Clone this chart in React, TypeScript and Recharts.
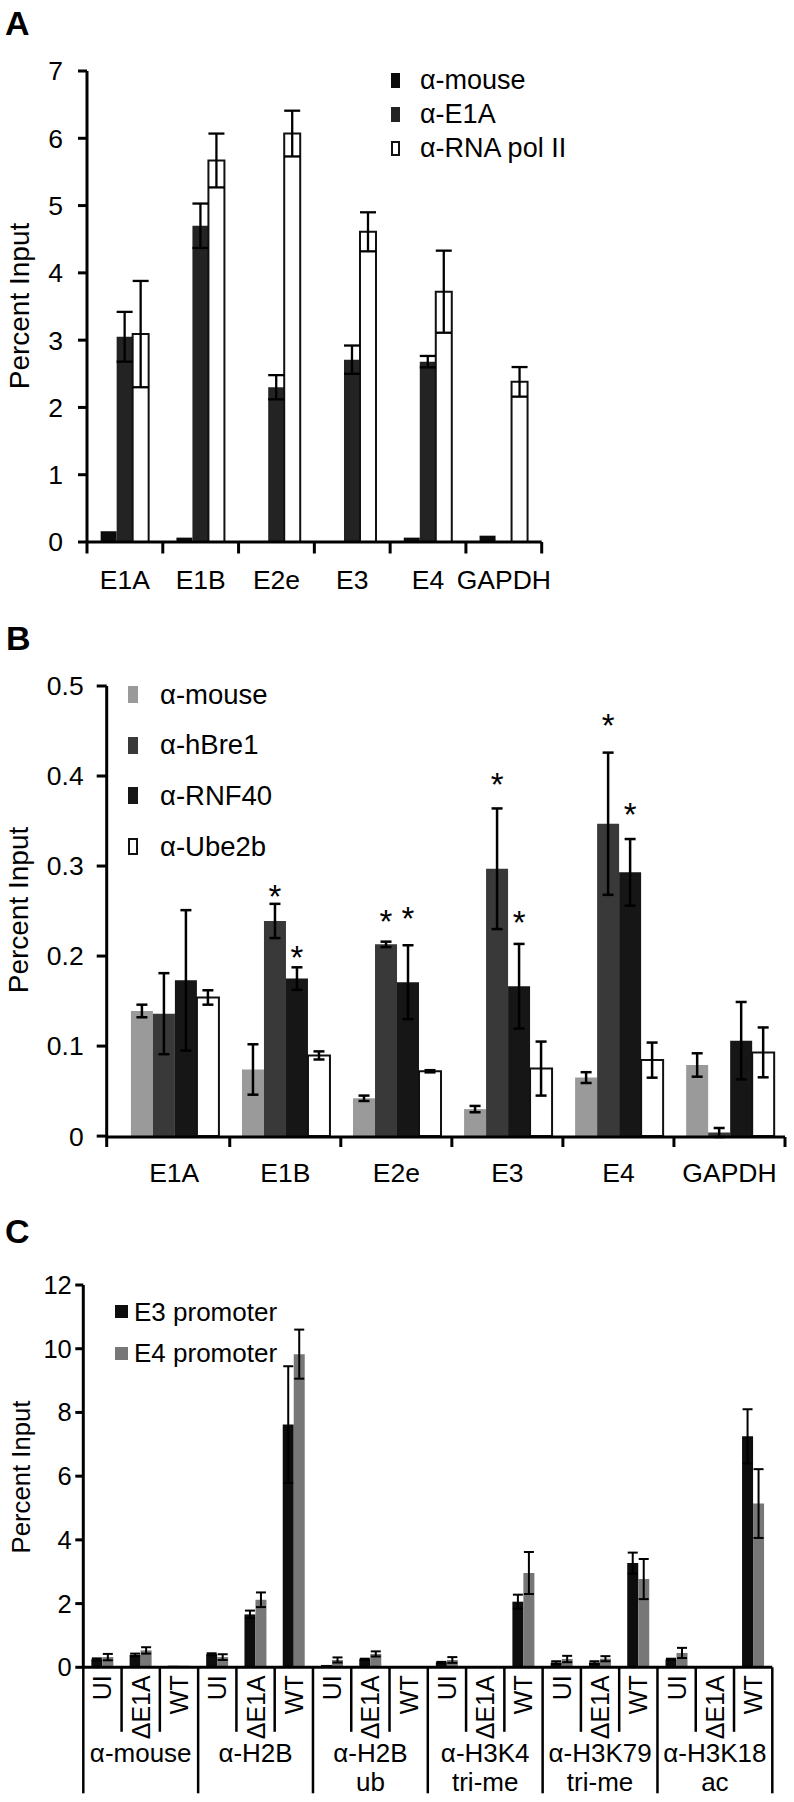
import React from 'react';
import { BarChart, Bar, XAxis, YAxis, ErrorBar, Legend, LabelList } from 'recharts';

const FONT = '"Liberation Sans", Arial, Helvetica, sans-serif';

// ---------- Panel A data ----------
const aCategories = ['E1A', 'E1B', 'E2e', 'E3', 'E4', 'GAPDH'];
const aMouse = [0.16, 0.065, 0, 0, 0.065, 0.094];
const aE1A = [3.05, 4.7, 2.3, 2.71, 2.68, 0];
const aE1AErr = [0.37, 0.33, 0.18, 0.21, 0.085, 0];
const aPol = [3.09, 5.67, 6.07, 4.61, 3.72, 2.38];
const aPolErr = [0.79, 0.4, 0.34, 0.29, 0.61, 0.22];
const aTicks = [0, 1, 2, 3, 4, 5, 6, 7];

// ---------- Panel B data ----------
const bCategories = ['E1A', 'E1B', 'E2e', 'E3', 'E4', 'GAPDH'];
const bMouse = [0.139, 0.074, 0.042, 0.03, 0.065, 0.079];
const bMouseErr = [0.007, 0.028, 0.003, 0.0035, 0.006, 0.013];
const bHBre1 = [0.136, 0.239, 0.213, 0.297, 0.347, 0.004];
const bHBre1Err = [0.045, 0.019, 0.003, 0.067, 0.079, 0.005];
const bRNF40 = [0.173, 0.175, 0.171, 0.1665, 0.293, 0.106];
const bRNF40Err = [0.078, 0.0125, 0.041, 0.047, 0.037, 0.043];
const bUbe2b = [0.154, 0.0896, 0.072, 0.075, 0.0844, 0.093];
const bUbe2bErr = [0.008, 0.0045, 0.0012, 0.03, 0.0195, 0.0277];
// significance marks (value position of the asterisk)
const bHBre1Star: (number | null)[] = [null, 0.274, 0.247, 0.399, 0.465, null];
const bRNF40Star: (number | null)[] = [null, 0.207, 0.25, 0.246, 0.366, null];
const bTicks = [0, 0.1, 0.2, 0.3, 0.4, 0.5];

// ---------- Panel C data ----------
const cGroups = ['α-mouse', 'α-H2B', 'α-H2B\nub', 'α-H3K4\ntri-me', 'α-H3K79\ntri-me', 'α-H3K18\nac'];
const cSubs = ['UI', 'ΔE1A', 'WT'];
const cE3 = [0.25, 0.39, 0.05, 0.41, 1.66, 7.62, 0.074, 0.25, 0, 0.15, 0.01, 2.06, 0.15, 0.15, 3.27, 0.25, 0.01, 7.25];
const cE3Err = [0.03, 0.04, 0, 0.03, 0.12, 1.83, 0, 0.02, 0, 0.02, 0, 0.22, 0.04, 0.04, 0.33, 0.02, 0, 0.85];
const cE4 = [0.32, 0.53, 0.05, 0.32, 2.12, 9.83, 0.23, 0.42, 0, 0.23, 0.02, 2.96, 0.26, 0.27, 2.77, 0.45, 0.01, 5.14];
const cE4Err = [0.1, 0.1, 0, 0.09, 0.23, 0.77, 0.08, 0.08, 0, 0.09, 0, 0.66, 0.1, 0.08, 0.63, 0.16, 0, 1.08];
const cTicks = [0, 2, 4, 6, 8, 10, 12];

const nz = (v: number) => (v > 0 ? v : null);

const aData = aCategories.map((c, i) => ({
  cat: c, mouse: aMouse[i], e1a: aE1A[i], e1aErr: nz(aE1AErr[i]), pol: aPol[i], polErr: nz(aPolErr[i]),
}));
const bData = bCategories.map((c, i) => ({
  cat: c,
  mouse: bMouse[i], mouseErr: nz(bMouseErr[i]),
  hbre1: bHBre1[i], hbre1Err: nz(bHBre1Err[i]),
  rnf40: bRNF40[i], rnf40Err: nz(bRNF40Err[i]),
  ube2b: bUbe2b[i], ube2bErr: nz(bUbe2bErr[i]),
}));
const cData: any[] = [];
cGroups.forEach((g, gi) => {
  cSubs.forEach((s, si) => {
    const i = gi * 3 + si;
    cData.push({ id: `${gi}-${s}`, group: g, sub: s, e3: cE3[i], e3Err: nz(cE3Err[i]), e4: cE4[i], e4Err: nz(cE4Err[i]) });
  });
});

type SeriesDef = { key: string; name: string; fill: string; stroke?: string };

const aSeries: SeriesDef[] = [
  { key: 'mouse', name: 'α-mouse', fill: '#0b0b0b' },
  { key: 'e1a', name: 'α-E1A', fill: '#232323' },
  { key: 'pol', name: 'α-RNA pol II', fill: '#ffffff', stroke: '#111' },
];
const bSeries: SeriesDef[] = [
  { key: 'mouse', name: 'α-mouse', fill: '#9a9a9a' },
  { key: 'hbre1', name: 'α-hBre1', fill: '#393939' },
  { key: 'rnf40', name: 'α-RNF40', fill: '#161616' },
  { key: 'ube2b', name: 'α-Ube2b', fill: '#ffffff', stroke: '#111' },
];
const cSeries: SeriesDef[] = [
  { key: 'e3', name: 'E3 promoter', fill: '#0d0d0d' },
  { key: 'e4', name: 'E4 promoter', fill: '#777777' },
];

function BoundaryTick(props: any) {
  const { x, y, payload, index, band, padLeft, tickLen, labelDy, fontSize } = props;
  const half = typeof payload?.offset === 'number' && payload.offset > 0 ? payload.offset : band / 2;
  return (
    <g>
      <line x1={x + half} x2={x + half} y1={y} y2={y + tickLen} stroke="#000" strokeWidth={3} />
      {index === 0 ? (
        <line x1={x - half - padLeft} x2={x - half - padLeft} y1={y} y2={y + tickLen} stroke="#000" strokeWidth={3} />
      ) : null}
      <text x={x} y={y + labelDy} textAnchor="middle" fontSize={fontSize} fontFamily={FONT} fill="#000">
        {payload.value}
      </text>
    </g>
  );
}

function CTick(props: any) {
  const { x, y, payload, index, band } = props;
  const half = typeof payload?.offset === 'number' && payload.offset > 0 ? payload.offset : band / 2;
  const d = cData[index];
  if (!d) return null;
  const pos = index % 3;
  const groupLines: string[] = d.group.split('\n');
  return (
    <g>
      <text
        transform={`translate(${x},${y + 8}) rotate(-90)`}
        textAnchor="end"
        dy="0.36em"
        fontSize={25}
        fontFamily={FONT}
        fill="#000"
      >
        {d.sub}
      </text>
      {index === 0 ? (
        <line x1={x - half} x2={x - half} y1={y} y2={y + 126} stroke="#000" strokeWidth={2.5} />
      ) : null}
      <line
        x1={x + half}
        x2={x + half}
        y1={y}
        y2={pos === 2 ? y + 126 : y + 64.5}
        stroke="#000"
        strokeWidth={2.5}
      />
      {pos === 1
        ? groupLines.map((t, k) => (
            <text key={k} x={x} y={y + 94.5 + k * 29.5} textAnchor="middle" fontSize={26} fontFamily={FONT} fill="#000">
              {t}
            </text>
          ))
        : null}
    </g>
  );
}

const makeLegend = (
  series: SeriesDef[],
  opts: { rowH: number; mw: number; mh: number; gap: number; fontSize: number }
) => (props: any) => {
  const payload: any[] = props.payload || [];
  const ordered = series
    .map((s) => ({ s, e: payload.find((p: any) => p.value === s.name) }))
    .filter((o) => o.e);
  return (
    <div style={{ fontFamily: FONT, color: '#000' }}>
      {ordered.map(({ s, e }, i: number) => (
        <div key={i} style={{ display: 'flex', alignItems: 'center', height: opts.rowH, whiteSpace: 'nowrap' }}>
          <span
            style={{
              display: 'inline-block',
              width: opts.mw,
              height: opts.mh,
              background: s.fill,
              border: s.stroke ? `2px solid ${s.stroke}` : 'none',
              boxSizing: 'border-box',
              marginRight: opts.gap,
              flex: 'none',
            }}
          />
          <span style={{ fontSize: opts.fontSize, lineHeight: 1 }}>{e.value}</span>
        </div>
      ))}
    </div>
  );
};

const axisStroke = { stroke: '#000', strokeWidth: 3 };

function PanelA() {
  const [m, e, p] = aSeries;
  return (
    <BarChart width={794} height={610} data={aData} margin={{ top: 71, right: 252.3, bottom: 0, left: 0 }} barGap={0} barCategoryGap="18%">
      <XAxis
        dataKey="cat"
        height={68}
        axisLine={axisStroke}
        tickLine={false}
        tickSize={0}
        tickMargin={0}
        interval={0}
        tick={<BoundaryTick band={75.8} padLeft={0} tickLen={11.5} labelDy={46.5} fontSize={26.5} />}
      />
      <YAxis
        width={87}
        domain={[0, 7]}
        ticks={aTicks}
        axisLine={axisStroke}
        tickLine={axisStroke}
        tickSize={9}
        tickMargin={15}
        tick={{ fontSize: 26.5, fill: '#000', fontFamily: FONT }}
      />
      <Legend
        layout="vertical"
        align="center"
        verticalAlign="middle"
        wrapperStyle={{ position: 'absolute', left: 391, top: 64, width: 260 }}
        content={makeLegend(aSeries, { rowH: 33.8, mw: 9, mh: 15, gap: 20, fontSize: 27 })}
      />
      <Bar dataKey={m.key} name={m.name} fill={m.fill} isAnimationActive={false} />
      <Bar dataKey={e.key} name={e.name} fill={e.fill} isAnimationActive={false}>
        <ErrorBar dataKey="e1aErr" width={8} strokeWidth={2.3} stroke="#000" direction="y" />
      </Bar>
      <Bar dataKey={p.key} name={p.name} fill={p.fill} stroke={p.stroke} strokeWidth={2} isAnimationActive={false}>
        <ErrorBar dataKey="polErr" width={8} strokeWidth={2.3} stroke="#000" direction="y" />
      </Bar>
    </BarChart>
  );
}

const makeStar = (stars: (number | null)[], vals: number[]) => (props: any) => {
  const idx = props.index;
  if (idx == null) return null;
  const sv = stars[idx];
  const v = vals[idx];
  if (sv == null || !v) return null;
  const vb = props.viewBox && props.viewBox.height != null ? props.viewBox : props;
  const { x, y, width, height } = vb;
  if (![x, y, width, height].every((n: any) => typeof n === 'number')) return null;
  const k = height / v;
  const base = y + height;
  const cy = base - sv * k;
  return (
    <text x={x + width / 2} y={cy + 19} textAnchor="middle" fontSize={33} fontFamily={FONT} fill="#000">
      *
    </text>
  );
};

function PanelB() {
  const [m, h, r, u] = bSeries;
  return (
    <BarChart width={794} height={600} data={bData} margin={{ top: 76, right: 9, bottom: 0, left: 0 }} barGap={0} barCategoryGap="11%">
      <XAxis
        dataKey="cat"
        height={73}
        padding={{ left: 12, right: 0 }}
        axisLine={axisStroke}
        tickLine={false}
        tickSize={0}
        tickMargin={0}
        interval={0}
        tick={<BoundaryTick band={111.05} padLeft={12} tickLen={10} labelDy={45} fontSize={26.5} />}
      />
      <YAxis
        width={106.7}
        domain={[0, 0.5]}
        ticks={bTicks}
        axisLine={axisStroke}
        tickLine={axisStroke}
        tickSize={10}
        tickMargin={13}
        tickFormatter={(v: number) => (v === 0 ? '0' : String(v))}
        tick={{ fontSize: 26.5, fill: '#000', fontFamily: FONT }}
      />
      <Legend
        layout="vertical"
        align="center"
        verticalAlign="middle"
        wrapperStyle={{ position: 'absolute', left: 128, top: 59, width: 260 }}
        content={makeLegend(bSeries, { rowH: 50.8, mw: 10, mh: 17, gap: 22, fontSize: 27.5 })}
      />
      <Bar dataKey={m.key} name={m.name} fill={m.fill} isAnimationActive={false}>
        <ErrorBar dataKey="mouseErr" width={5.5} strokeWidth={2.5} stroke="#000" direction="y" />
      </Bar>
      <Bar dataKey={h.key} name={h.name} fill={h.fill} isAnimationActive={false}>
        <ErrorBar dataKey="hbre1Err" width={5.5} strokeWidth={2.5} stroke="#000" direction="y" />
        <LabelList dataKey="hbre1" content={makeStar(bHBre1Star, bHBre1)} />
      </Bar>
      <Bar dataKey={r.key} name={r.name} fill={r.fill} isAnimationActive={false}>
        <ErrorBar dataKey="rnf40Err" width={5.5} strokeWidth={2.5} stroke="#000" direction="y" />
        <LabelList dataKey="rnf40" content={makeStar(bRNF40Star, bRNF40)} />
      </Bar>
      <Bar dataKey={u.key} name={u.name} fill={u.fill} stroke={u.stroke} strokeWidth={2} isAnimationActive={false}>
        <ErrorBar dataKey="ube2bErr" width={5.5} strokeWidth={2.5} stroke="#000" direction="y" />
      </Bar>
    </BarChart>
  );
}

function PanelC() {
  const [e3, e4] = cSeries;
  return (
    <BarChart width={794} height={592} data={cData} margin={{ top: 75, right: 21.7, bottom: 0, left: 0 }} barGap={0} barCategoryGap="21%">
      <XAxis
        dataKey="id"
        height={134.7}
        axisLine={axisStroke}
        tickLine={false}
        tickSize={0}
        tickMargin={0}
        interval={0}
        tick={<CTick band={38.28} />}
      />
      <YAxis
        width={83.3}
        domain={[0, 12]}
        ticks={cTicks}
        axisLine={axisStroke}
        tickLine={axisStroke}
        tickSize={8}
        tickMargin={3.5}
        tick={{ fontSize: 25.5, fill: '#000', fontFamily: FONT }}
      />
      <Legend
        layout="vertical"
        align="center"
        verticalAlign="middle"
        wrapperStyle={{ position: 'absolute', left: 115, top: 81, width: 260 }}
        content={makeLegend(cSeries, { rowH: 41.6, mw: 13, mh: 13, gap: 6, fontSize: 26 })}
      />
      <Bar dataKey={e3.key} name={e3.name} fill={e3.fill} isAnimationActive={false}>
        <ErrorBar dataKey="e3Err" width={5} strokeWidth={2} stroke="#000" direction="y" />
      </Bar>
      <Bar dataKey={e4.key} name={e4.name} fill={e4.fill} isAnimationActive={false}>
        <ErrorBar dataKey="e4Err" width={5} strokeWidth={2} stroke="#000" direction="y" />
      </Bar>
    </BarChart>
  );
}

const yTitle = 'Percent Input';

export default function App() {
  return (
    <div style={{ position: 'absolute', left: 0, top: 0, width: 794, height: 1802, background: '#fff', fontFamily: FONT, overflow: 'hidden' }}>
      <div style={{ position: 'absolute', left: 0, top: 0 }}>
        <PanelA />
      </div>
      <div style={{ position: 'absolute', left: 0, top: 610 }}>
        <PanelB />
      </div>
      <div style={{ position: 'absolute', left: 0, top: 1210 }}>
        <PanelC />
      </div>
      <svg width={794} height={1802} style={{ position: 'absolute', left: 0, top: 0, pointerEvents: 'none' }}>
        <text x={5} y={35} fontSize={34} fontWeight="bold" fontFamily={FONT} fill="#000">A</text>
        <text x={6} y={650} fontSize={34} fontWeight="bold" fontFamily={FONT} fill="#000">B</text>
        <text x={5} y={1243} fontSize={34} fontWeight="bold" fontFamily={FONT} fill="#000">C</text>
        <text transform="translate(19,306) rotate(-90)" textAnchor="middle" dy="0.36em" fontSize={28} fontFamily={FONT} fill="#000">{yTitle}</text>
        <text transform="translate(18,910) rotate(-90)" textAnchor="middle" dy="0.36em" fontSize={28} fontFamily={FONT} fill="#000">{yTitle}</text>
        <text transform="translate(21,1477) rotate(-90)" textAnchor="middle" dy="0.36em" fontSize={25.7} fontFamily={FONT} fill="#000">{yTitle}</text>
      </svg>
    </div>
  );
}
